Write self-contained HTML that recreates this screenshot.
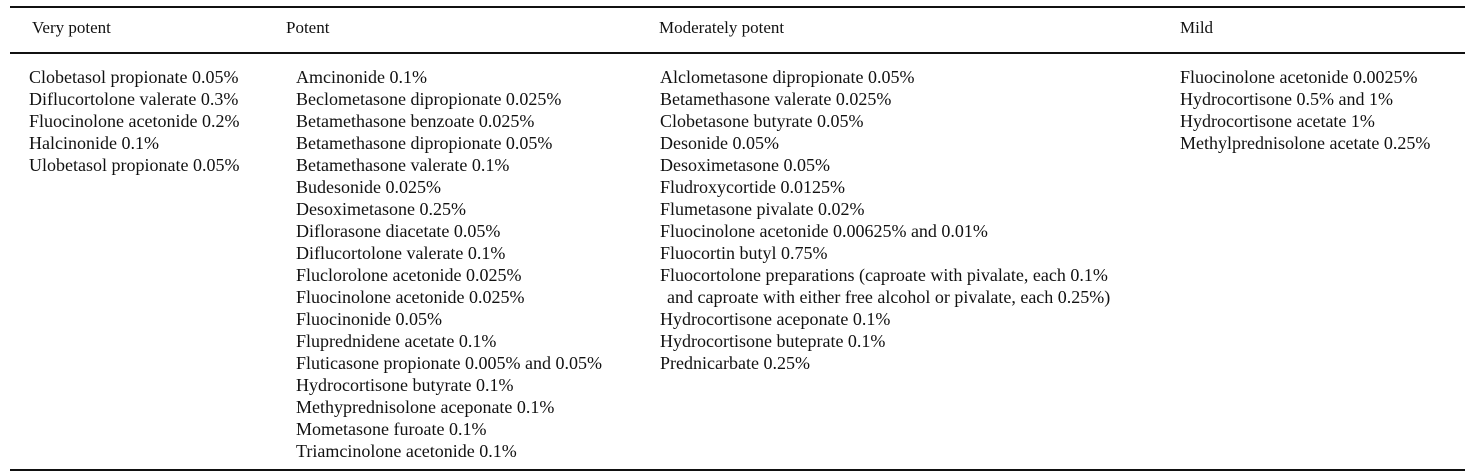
<!DOCTYPE html>
<html><head><meta charset="utf-8">
<style>
html,body{margin:0;padding:0;background:#fff;}
body{width:1475px;height:473px;position:relative;overflow:hidden;font-family:"Liberation Serif",serif;color:#111;font-size:18px;}
.r{position:absolute;left:10px;width:1455px;height:1.5px;background:#111;}
.t{position:absolute;white-space:nowrap;line-height:20px;}
</style></head><body>
<div class="r" style="top:6px"></div>
<div class="r" style="top:52px"></div>
<div class="r" style="top:469px"></div>
<div id="tbl"></div>
<script>
const headers=["Very potent","Potent","Moderately potent","Mild"];
const headerX=[32,286,659,1180];
const colX=[29,296,660,1180];
const col1=["Clobetasol propionate 0.05%","Diflucortolone valerate 0.3%","Fluocinolone acetonide 0.2%","Halcinonide 0.1%","Ulobetasol propionate 0.05%"];
const col2=["Amcinonide 0.1%","Beclometasone dipropionate 0.025%","Betamethasone benzoate 0.025%","Betamethasone dipropionate 0.05%","Betamethasone valerate 0.1%","Budesonide 0.025%","Desoximetasone 0.25%","Diflorasone diacetate 0.05%","Diflucortolone valerate 0.1%","Fluclorolone acetonide 0.025%","Fluocinolone acetonide 0.025%","Fluocinonide 0.05%","Fluprednidene acetate 0.1%","Fluticasone propionate 0.005% and 0.05%","Hydrocortisone butyrate 0.1%","Methyprednisolone aceponate 0.1%","Mometasone furoate 0.1%","Triamcinolone acetonide 0.1%"];
const col3=["Alclometasone dipropionate 0.05%","Betamethasone valerate 0.025%","Clobetasone butyrate 0.05%","Desonide 0.05%","Desoximetasone 0.05%","Fludroxycortide 0.0125%","Flumetasone pivalate 0.02%","Fluocinolone acetonide 0.00625% and 0.01%","Fluocortin butyl 0.75%","Fluocortolone preparations (caproate with pivalate, each 0.1%","  and caproate with either free alcohol or pivalate, each 0.25%)","Hydrocortisone aceponate 0.1%","Hydrocortisone buteprate 0.1%","Prednicarbate 0.25%"];
const col4=["Fluocinolone acetonide 0.0025%","Hydrocortisone 0.5% and 1%","Hydrocortisone acetate 1%","Methylprednisolone acetate 0.25%"];
const cols=[col1,col2,col3,col4];
const tbl=document.getElementById('tbl');
headers.forEach((h,i)=>{
  const d=document.createElement('div');d.className='t';
  
  
  d.style.left=headerX[i]+'px';d.style.top='18px';d.style.fontSize='17px';d.textContent=h;tbl.appendChild(d);
});
cols.forEach((c,i)=>{
  c.forEach((txt,j)=>{
    const d=document.createElement('div');d.className='t';
    
    
    const indent=txt.startsWith('  ')?7:0;
    d.style.left=(colX[i]+indent)+'px';d.style.top=(67+j*22)+'px';d.textContent=txt.trim();tbl.appendChild(d);
  });
});
</script>
</body></html>
